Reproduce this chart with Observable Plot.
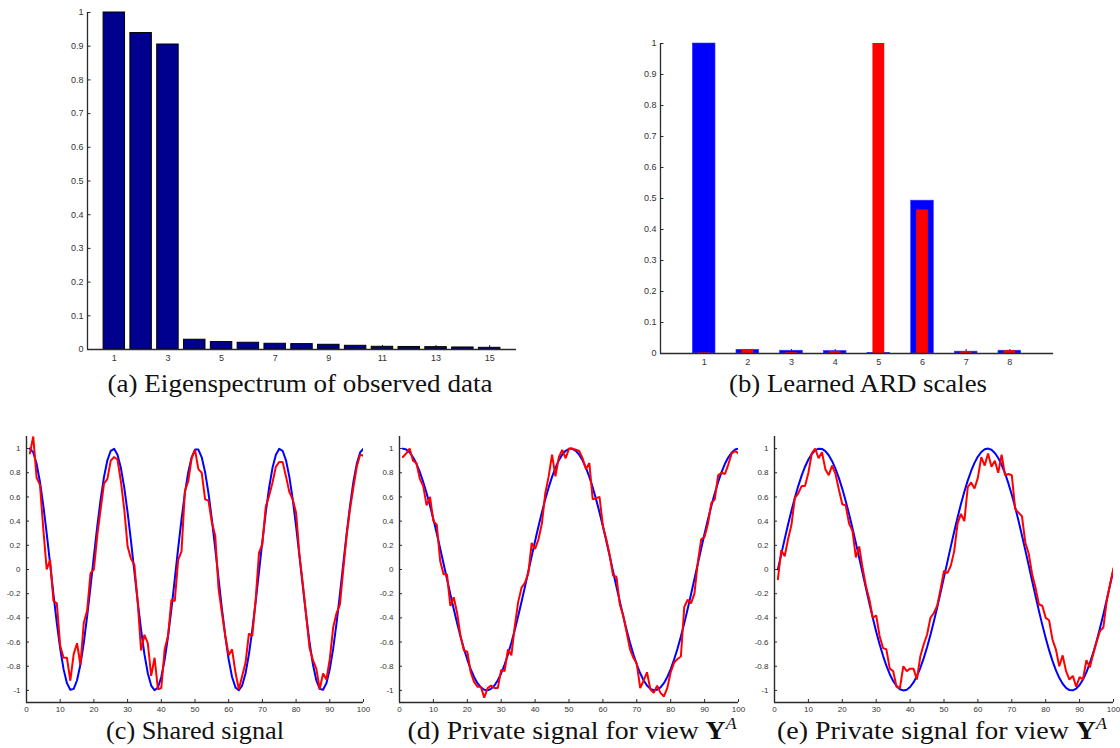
<!DOCTYPE html>
<html>
<head>
<meta charset="utf-8">
<script src="https://cdn.jsdelivr.net/npm/d3@7"></script>
<script src="https://cdn.jsdelivr.net/npm/@observablehq/plot@0.6"></script>
<style>
  html, body { margin: 0; padding: 0; background: #fff; }
  #fig { position: relative; width: 1120px; height: 748px; overflow: hidden; background: #fff; }
  .panel { position: absolute; }
  .panel svg { overflow: visible; }
  #captions { position: absolute; left: 0; top: 0; pointer-events: none; }
</style>
</head>
<body>
<div id="fig">
  <div class="panel" id="pa" style="left:0px;top:0px"></div>
  <div class="panel" id="pb" style="left:600px;top:0px"></div>
  <div class="panel" id="pc" style="left:0px;top:420px"></div>
  <div class="panel" id="pd" style="left:375px;top:420px"></div>
  <div class="panel" id="pe" style="left:750px;top:420px"></div>
  <svg id="captions" width="1120" height="748" font-family="'Liberation Serif', 'Times New Roman', serif" font-size="25" fill="#111">
    <text x="300" y="392" text-anchor="middle" textLength="385" lengthAdjust="spacingAndGlyphs">(a) Eigenspectrum of observed data</text>
    <text x="858" y="392" text-anchor="middle" textLength="258" lengthAdjust="spacingAndGlyphs">(b) Learned ARD scales</text>
    <text x="195" y="739" text-anchor="middle" textLength="178" lengthAdjust="spacingAndGlyphs">(c) Shared signal</text>
    <text x="572" y="739" text-anchor="middle" textLength="329" lengthAdjust="spacingAndGlyphs">(d) Private signal for view <tspan font-weight="bold">Y</tspan><tspan font-size="16" font-style="italic" dy="-10">A</tspan></text>
    <text x="942" y="739" text-anchor="middle" textLength="330" lengthAdjust="spacingAndGlyphs">(e) Private signal for view <tspan font-weight="bold">Y</tspan><tspan font-size="16" font-style="italic" dy="-10">A</tspan></text>
  </svg>
</div>
<script>
// ---------- (a) Eigenspectrum ----------
const eigIdx = [1, 2, 3, 4, 5, 6, 7, 8, 9, 10, 11, 12, 13, 14, 15];
const eigVal = [1.000, 0.939, 0.905, 0.029, 0.022, 0.020, 0.017, 0.016, 0.014, 0.011, 0.008, 0.0075, 0.007, 0.006, 0.005];
const eigXTicks = [1, 3, 5, 7, 9, 11, 13, 15];
const unitYTicks = [0, 0.1, 0.2, 0.3, 0.4, 0.5, 0.6, 0.7, 0.8, 0.9, 1];

// ---------- (b) Learned ARD scales ----------
const ardIdx = [1, 2, 3, 4, 5, 6, 7, 8];
const ardBlue = [1.000, 0.012, 0.009, 0.008, 0.002, 0.493, 0.006, 0.009];
const ardRed  = [0.002, 0.013, 0.003, 0.006, 1.000, 0.463, 0.006, 0.009];

// ---------- (c)-(e) signals ----------
const sigX = [1,2,3,4,5,6,7,8,9,10,11,12,13,14,15,16,17,18,19,20,21,22,23,24,25,26,27,28,29,30,31,32,33,34,35,36,37,38,39,40,41,42,43,44,45,46,47,48,49,50,51,52,53,54,55,56,57,58,59,60,61,62,63,64,65,66,67,68,69,70,71,72,73,74,75,76,77,78,79,80,81,82,83,84,85,86,87,88,89,90,91,92,93,94,95,96,97,98,99,100];
const sigXTicks = [0, 10, 20, 30, 40, 50, 60, 70, 80, 90, 100];
const sigYTicks = [-1, -0.8, -0.6, -0.4, -0.2, 0, 0.2, 0.4, 0.6, 0.8, 1];

const blueC = [1.000,0.968,0.874,0.724,0.527,0.297,0.048,-0.205,-0.444,-0.655,-0.824,-0.940,-0.995,-0.987,-0.916,-0.786,-0.606,-0.386,-0.142,0.111,0.357,0.580,0.766,0.903,0.982,0.998,0.950,0.841,0.679,0.472,0.236,-0.016,-0.266,-0.500,-0.702,-0.858,-0.960,-0.999,-0.975,-0.889,-0.745,-0.554,-0.327,-0.079,0.174,0.415,0.631,0.805,0.928,0.992,
  0.992,0.928,0.805,0.631,0.415,0.174,-0.079,-0.327,-0.554,-0.745,-0.889,-0.975,-0.999,-0.960,-0.858,-0.702,-0.500,-0.266,-0.016,0.236,0.472,0.679,0.841,0.950,0.998,0.982,0.903,0.766,0.580,0.357,0.111,-0.142,-0.386,-0.606,-0.786,-0.916,-0.987,-0.995,-0.940,-0.824,-0.655,-0.444,-0.205,0.048,0.297,0.527,0.724,0.874,0.968,1.000];
const redC = [0.96,1.10,0.76,0.70,0.33,0.00,0.08,-0.26,-0.28,-0.63,
  -0.73,-0.73,-0.92,-0.70,-0.61,-0.79,-0.44,-0.34,-0.03,0.00,
  0.28,0.50,0.71,0.75,0.90,0.93,0.91,0.73,0.50,0.19,
  0.09,0.04,-0.27,-0.67,-0.54,-0.61,-0.88,-0.73,-0.99,-0.98,
  -0.66,-0.55,-0.25,-0.26,0.08,0.15,0.65,0.73,0.92,0.99,
  0.83,0.80,0.58,0.57,0.39,0.28,-0.16,-0.36,-0.55,-0.71,
  -0.66,-0.85,-0.99,-0.88,-0.77,-0.53,-0.55,-0.25,0.14,0.21,
  0.52,0.61,0.72,0.85,0.89,0.89,0.77,0.64,0.58,0.47,
  0.12,-0.12,-0.38,-0.65,-0.75,-0.82,-0.99,-0.86,-0.91,-0.74,
  -0.48,-0.36,-0.29,0.00,0.28,0.50,0.68,0.85,0.95,0.94];

const blueD = [1.000,0.992,0.968,0.928,0.874,0.805,0.724,0.631,0.527,0.415,0.297,0.174,0.048,-0.079,-0.205,-0.327,-0.444,-0.554,-0.655,-0.745,-0.824,-0.889,-0.940,-0.975,-0.995,-0.999,-0.987,-0.960,-0.916,-0.858,-0.786,-0.702,-0.606,-0.500,-0.386,-0.266,-0.142,-0.016,0.111,0.236,0.357,0.472,0.580,0.679,0.766,0.841,0.903,0.950,0.982,0.998,
  0.998,0.982,0.950,0.903,0.841,0.766,0.679,0.580,0.472,0.357,0.236,0.111,-0.016,-0.142,-0.266,-0.386,-0.500,-0.606,-0.702,-0.786,-0.858,-0.916,-0.960,-0.987,-0.999,-0.995,-0.975,-0.940,-0.889,-0.824,-0.745,-0.655,-0.554,-0.444,-0.327,-0.205,-0.079,0.048,0.174,0.297,0.415,0.527,0.631,0.724,0.805,0.874,0.928,0.968,0.992,1.000];
const redD = [0.93,0.96,1.00,0.90,0.88,0.75,0.69,0.53,0.60,0.40,
  0.37,0.07,-0.04,-0.04,-0.30,-0.23,-0.36,-0.55,-0.67,-0.68,
  -0.85,-0.93,-0.97,-0.97,-1.06,-0.98,-0.96,-0.98,-0.98,-0.83,
  -0.84,-0.66,-0.71,-0.47,-0.27,-0.15,-0.11,-0.03,0.22,0.17,
  0.25,0.38,0.63,0.77,0.95,0.77,0.93,0.99,0.92,1.00,
  1.00,0.99,0.98,0.92,0.83,0.88,0.58,0.59,0.60,0.36,
  0.25,0.12,-0.05,-0.06,-0.29,-0.38,-0.52,-0.66,-0.73,-0.78,
  -0.98,-0.92,-0.85,-0.99,-1.02,-0.96,-1.02,-1.05,-0.98,-0.85,
  -0.77,-0.74,-0.72,-0.31,-0.25,-0.28,-0.20,0.06,0.25,0.27,
  0.38,0.55,0.58,0.78,0.80,0.79,0.87,0.96,0.98,0.96];

const blueE = [0.000,0.127,0.251,0.372,0.486,0.593,0.690,0.776,0.850,0.910,0.955,0.985,0.999,0.997,0.979,0.945,0.896,0.833,0.756,0.667,0.567,0.458,0.342,0.220,0.095,-0.032,-0.158,-0.282,-0.401,-0.514,-0.618,-0.712,-0.796,-0.866,-0.922,-0.964,-0.990,-1.000,-0.994,-0.972,-0.934,-0.882,-0.815,-0.735,-0.643,-0.541,-0.430,-0.312,-0.189,-0.063,
  0.063,0.189,0.312,0.430,0.541,0.643,0.735,0.815,0.882,0.934,0.972,0.994,1.000,0.990,0.964,0.922,0.866,0.796,0.712,0.618,0.514,0.401,0.282,0.158,0.032,-0.095,-0.220,-0.342,-0.458,-0.567,-0.667,-0.756,-0.833,-0.896,-0.945,-0.979,-0.997,-0.999,-0.985,-0.955,-0.910,-0.850,-0.776,-0.690,-0.593,-0.486,-0.372,-0.251,-0.127,0.000];
const redE = [-0.08,0.16,0.11,0.25,0.37,0.59,0.63,0.69,0.69,0.80,
  0.96,1.00,0.92,0.97,0.83,0.78,0.86,0.79,0.66,0.54,
  0.53,0.38,0.32,0.10,0.19,0.01,-0.14,-0.25,-0.40,-0.38,
  -0.55,-0.65,-0.66,-0.82,-0.84,-0.97,-0.98,-0.80,-0.84,-0.82,
  -0.82,-0.91,-0.72,-0.62,-0.54,-0.40,-0.36,-0.30,-0.16,-0.01,
  -0.03,0.03,0.15,0.38,0.46,0.40,0.68,0.72,0.67,0.76,
  0.93,0.86,0.96,0.85,0.90,0.80,0.95,0.78,0.79,0.78,
  0.50,0.47,0.44,0.22,0.13,-0.04,-0.15,-0.29,-0.30,-0.40,
  -0.42,-0.58,-0.66,-0.80,-0.71,-0.84,-0.91,-0.88,-0.97,-0.89,
  -0.91,-0.75,-0.81,-0.70,-0.60,-0.51,-0.48,-0.26,-0.12,0.01];

// ---------- styles ----------
const AXIS = "#2a2a2a";
const baseStyle = fs => ({fontFamily: "'Liberation Sans', Arial, Helvetica, sans-serif", fontSize: fs, color: "#333", background: "transparent", overflow: "visible"});
const fmt = d => String(d);

function barPanel({width, height, ml, mr, mt, mb, xDomain, xTicks, bars}) {
  const pw = width - ml - mr, ph = height - mt - mb;
  return Plot.plot({
    width, height, marginLeft: ml, marginRight: mr, marginTop: mt, marginBottom: mb,
    style: baseStyle("9px"),
    x: {domain: xDomain, label: null},
    y: {domain: [0, 1], label: null},
    marks: [
      Plot.tickY(unitYTicks, {y: d => d, insetRight: pw - 3.5, stroke: AXIS, strokeWidth: 1}),
      Plot.tickX(xTicks, {x: d => d, insetTop: ph - 4, stroke: AXIS, strokeWidth: 1}),
      ...bars,
      Plot.ruleX([xDomain[0]], {stroke: AXIS, strokeWidth: 1.3}),
      Plot.ruleY([0], {stroke: AXIS, strokeWidth: 1.3}),
      Plot.axisY(unitYTicks, {tickSize: 0, tickPadding: 4, tickFormat: fmt}),
      Plot.axisX(xTicks, {tickSize: 0, tickPadding: 5, tickFormat: fmt})
    ]
  });
}

document.getElementById("pa").append(barPanel({
  width: 530, height: 370, ml: 87, mr: 14, mt: 12, mb: 21,
  xDomain: [0, 16], xTicks: eigXTicks,
  bars: [
    Plot.rect(eigVal, {x1: (d, i) => eigIdx[i] - 0.4, x2: (d, i) => eigIdx[i] + 0.4, y1: 0, y2: d => d,
      fill: "#00008f", stroke: "#000", strokeWidth: 1})
  ]
}));

document.getElementById("pb").append(barPanel({
  width: 470, height: 370, ml: 60, mr: 17, mt: 43, mb: 17,
  xDomain: [0, 9], xTicks: ardIdx,
  bars: [
    Plot.rect(ardBlue, {x1: (d, i) => ardIdx[i] - 0.26, x2: (d, i) => ardIdx[i] + 0.26, y1: 0, y2: d => d,
      fill: "#0000ff", stroke: "#3a3aff", strokeWidth: 0.6}),
    Plot.rect(ardRed, {x1: (d, i) => ardIdx[i] - 0.135, x2: (d, i) => ardIdx[i] + 0.135, y1: 0, y2: d => d,
      fill: "#ff0000"})
  ]
}));

function signalPanel({width, ml, mr, blue, red}) {
  const height = 300, mt = 16, mb = 18;
  const pw = width - ml - mr, ph = height - mt - mb;
  return Plot.plot({
    width, height, marginLeft: ml, marginRight: mr, marginTop: mt, marginBottom: mb,
    style: baseStyle("8px"),
    x: {domain: [0, 100], label: null},
    y: {domain: [-1.1, 1.1], label: null},
    marks: [
      Plot.tickY(sigYTicks, {y: d => d, insetRight: pw - 3, stroke: AXIS}),
      Plot.tickX(sigXTicks, {x: d => d, insetTop: ph - 3, stroke: AXIS}),
      Plot.lineY(blue, {x: sigX, stroke: "#0000ff", strokeWidth: 2, clip: true}),
      Plot.lineY(red, {x: sigX, stroke: "#ff0000", strokeWidth: 2, clip: true, strokeLinejoin: "miter"}),
      Plot.ruleX([0], {stroke: AXIS, strokeWidth: 1.4}),
      Plot.ruleY([-1.1], {stroke: AXIS, strokeWidth: 1.4}),
      Plot.axisY(sigYTicks, {tickSize: 0, tickPadding: 6, tickFormat: fmt}),
      Plot.axisX(sigXTicks, {tickSize: 0, tickPadding: 4, tickFormat: fmt})
    ]
  });
}

document.getElementById("pc").append(signalPanel({width: 375, ml: 26, mr: 12, blue: blueC, red: redC}));
document.getElementById("pd").append(signalPanel({width: 375, ml: 24, mr: 12, blue: blueD, red: redD}));
document.getElementById("pe").append(signalPanel({width: 370, ml: 24, mr: 7, blue: blueE, red: redE}));
</script>
</body>
</html>
